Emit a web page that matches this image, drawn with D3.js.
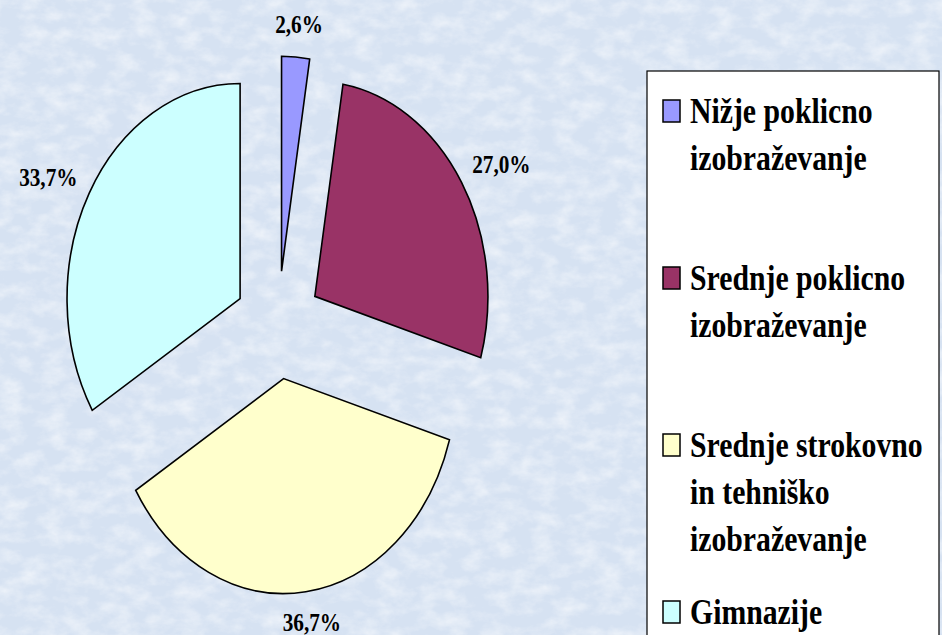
<!DOCTYPE html>
<html>
<head>
<meta charset="utf-8">
<script src="https://cdn.jsdelivr.net/npm/d3@7"></script>
<style>
  html,body{margin:0;padding:0;overflow:hidden;}
  svg{display:block;}
  text{font-family:"Liberation Serif","Times New Roman",serif;font-weight:bold;fill:#000;}
</style>
</head>
<body>
<script>
const categories=["Nižje poklicno izobraževanje","Srednje poklicno izobraževanje",
                  "Srednje strokovno in tehniško izobraževanje","Gimnazije"];
const legendLines=[["Nižje poklicno","izobraževanje"],
                   ["Srednje poklicno","izobraževanje"],
                   ["Srednje strokovno","in tehniško","izobraževanje"],
                   ["Gimnazije"]];
const values=[2.6,27.0,36.7,33.7];
const colors=["#9999FF","#993366","#FFFFCC","#CCFFFF"];

const w=942;
const h=635;
const cx=278, cy=325;      // pie centre
const R=215;               // radius (vertical)
const kx=0.805;            // horizontal squash of the plot
const explode=54;
const labelGap=237;
const textSquash=0.85;

const svg=d3.select("body").append("svg").attr("width",w).attr("height",h);

// background: light blue tissue paper
const defs=svg.append("defs");
const f=defs.append("filter").attr("id","paper").attr("x",0).attr("y",0).attr("width","100%").attr("height","100%");
f.append("feTurbulence").attr("type","fractalNoise").attr("baseFrequency","0.045 0.07")
  .attr("numOctaves",4).attr("seed",11).attr("result","n");
f.append("feColorMatrix").attr("in","n").attr("type","matrix")
  .attr("values","0 0 0 0 1  0 0 0 0 1  0 0 0 0 1  0 0 0 1.3 -0.5");
svg.append("rect").attr("width",w).attr("height",h).attr("fill","#d6e2f2");
svg.append("rect").attr("width",w).attr("height",h).attr("filter","url(#paper)").attr("opacity",0.8);

const pie=d3.pie().sort(null).value(d=>d);
const arcs=pie(values);
const arc=d3.arc().innerRadius(0).outerRadius(R);

const pieG=svg.append("g").attr("transform",`translate(${cx},${cy}) scale(${kx},1)`);
pieG.selectAll("path")
  .data(arcs)
  .enter()
  .append("path")
  .attr("transform",d=>{
    const a=(d.startAngle+d.endAngle)/2;
    return `translate(${explode*Math.sin(a)},${-explode*Math.cos(a)})`;
  })
  .attr("d",arc)
  .attr("fill",(d,i)=>colors[i])
  .attr("stroke","#000")
  .attr("stroke-width",1.6)
  .attr("stroke-linejoin","miter")
  .attr("vector-effect","non-scaling-stroke");

// percentage labels
const fmt=v=>v.toFixed(1).replace(".",",")+"%";
arcs.forEach((d,i)=>{
  const a=(d.startAngle+d.endAngle)/2;
  const s=Math.sin(a), c=Math.cos(a);
  const ax=cx+kx*explode*s, ay=cy-explode*c;
  const px=ax+kx*labelGap*s, py=ay-labelGap*c;
  const t=svg.append("text").text(fmt(values[i])).style("font-size","25px").attr("text-anchor","middle");
  const tw=t.node().getComputedTextLength()*textSquash;
  const th=22;
  const mx=px+s*tw/2;
  const base=Math.min(py-c*th/2+8.5,h-4);
  t.attr("transform",`translate(${mx},${base}) scale(${textSquash},1)`);
});

// legend
const lg=svg.append("g");
lg.append("rect").attr("x",647).attr("y",71).attr("width",292).attr("height",600)
  .attr("fill","#fff").attr("stroke","#000").attr("stroke-width",1.2);
const itemY=d3.scaleLinear().domain([0,1]).range([123,290]);
categories.forEach((cat,i)=>{
  const by=itemY(i);
  lg.append("rect").attr("x",663).attr("y",by-23).attr("width",17).attr("height",22)
    .attr("fill",colors[i]).attr("stroke","#000").attr("stroke-width",1.5);
  legendLines[i].forEach((line,j)=>{
    lg.append("text").text(line).style("font-size","35px")
      .attr("transform",`translate(690,${by+j*47}) scale(${textSquash},1)`);
  });
});
</script>
</body>
</html>
